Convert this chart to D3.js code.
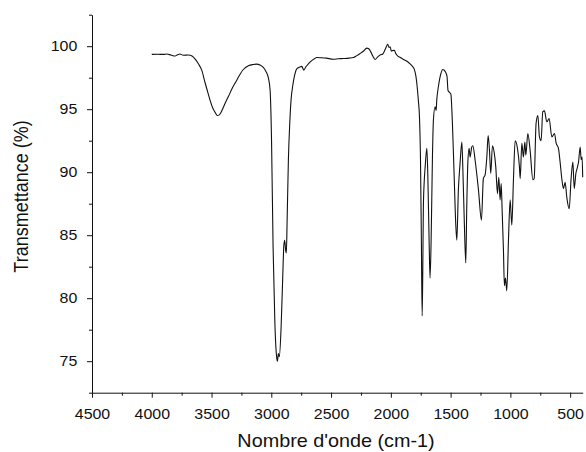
<!DOCTYPE html>
<html>
<head>
<meta charset="utf-8">
<script src="https://cdn.jsdelivr.net/npm/d3@7"></script>
<style>
    body { margin: 0; background: #fff; }
    svg { display: block; font-family: "Liberation Sans", Arial, sans-serif; }
</style>
</head>
<body>
<div id="chart"></div>
<script>
// IR spectrum (cm-1, %)
const wavenumbers = [
    4000, 3950, 3900, 3875, 3840, 3805, 3785, 3764, 3736, 3694, 3660, 3635, 3610, 3582, 3554, 3530,
    3512, 3490, 3470, 3451, 3435, 3415, 3390, 3359, 3325, 3289, 3260, 3234, 3192, 3150, 3122, 3094,
    3065, 3045, 3025, 3010, 2998, 2985, 2970, 2955, 2949, 2941, 2933, 2918, 2905, 2895, 2888, 2880,
    2874, 2868, 2857, 2845, 2835, 2820, 2807, 2787, 2760, 2745, 2728, 2712, 2690, 2662, 2640, 2620,
    2580, 2540, 2481, 2440, 2397, 2350, 2313, 2285, 2257, 2230, 2201, 2185, 2168, 2150, 2132, 2110,
    2090, 2067, 2045, 2026, 2015, 2006, 1995, 1987, 1970, 1960, 1950, 1920, 1895, 1865, 1839, 1815,
    1805, 1790, 1780, 1769, 1761, 1752, 1745, 1738, 1733, 1728, 1720, 1713, 1699, 1691, 1680, 1672,
    1663, 1652, 1644, 1630, 1621, 1616, 1602, 1582, 1565, 1546, 1530, 1522, 1515, 1498, 1485, 1471,
    1457, 1448, 1435, 1421, 1406, 1398, 1385, 1373, 1365, 1356, 1345, 1337, 1323, 1314, 1295, 1267,
    1242, 1226, 1211, 1197, 1186, 1175, 1164, 1150, 1136, 1122, 1108, 1097, 1086, 1077, 1069, 1058,
    1050, 1041, 1030, 1016, 1002, 988, 974, 960, 941, 924, 918, 904, 891, 879, 871, 854,
    835, 812, 801, 785, 770, 757, 743, 729, 715, 695, 676, 653, 631, 617, 598, 584,
    570, 556, 542, 528, 508, 492, 477, 466, 452, 439, 430, 416, 408, 400, 395
];
const transmittance = [
    99.35, 99.36, 99.35, 99.38, 99.30, 99.22, 99.32, 99.38, 99.28, 99.30, 99.20, 98.95, 98.60, 98.10, 97.10, 96.30,
    95.70, 95.10, 94.75, 94.50, 94.55, 94.85, 95.40, 96.00, 96.70, 97.30, 97.80, 98.15, 98.45, 98.55, 98.58, 98.50,
    98.30, 98.00, 97.50, 96.50, 92.50, 84.00, 78.00, 75.30, 75.00, 75.60, 75.35, 77.70, 81.50, 84.20, 84.60, 83.80,
    83.60, 86.00, 91.00, 94.00, 95.70, 96.90, 97.60, 98.20, 98.35, 98.40, 98.10, 98.35, 98.60, 98.85, 99.00, 99.10,
    99.08, 99.05, 98.97, 99.00, 99.02, 99.05, 99.10, 99.25, 99.42, 99.60, 99.85, 99.80, 99.55, 99.20, 98.95, 99.15,
    99.30, 99.38, 99.80, 100.15, 99.90, 99.95, 99.60, 99.65, 99.68, 99.45, 99.30, 99.10, 98.95, 98.80, 98.60, 98.35,
    98.20, 97.60, 96.80, 95.60, 94.50, 91.00, 85.00, 78.60, 82.00, 87.20, 89.40, 90.40, 91.90, 89.90, 84.60, 81.60,
    84.60, 91.20, 94.10, 95.20, 94.90, 95.70, 96.80, 97.80, 98.15, 98.00, 97.60, 96.50, 96.40, 96.20, 93.90, 89.90,
    85.90, 84.60, 88.60, 90.70, 92.40, 90.40, 85.90, 82.80, 87.20, 90.70, 91.90, 91.20, 92.00, 92.10, 90.95, 88.60,
    86.20, 89.50, 89.80, 91.20, 92.90, 91.75, 89.90, 92.10, 91.60, 90.40, 88.30, 89.60, 87.80, 89.10, 87.00, 83.80,
    81.00, 81.60, 80.60, 84.60, 87.80, 85.80, 89.50, 92.50, 91.90, 90.40, 89.50, 92.30, 91.20, 92.40, 91.35, 93.07,
    91.75, 89.40, 89.50, 93.87, 94.50, 92.80, 92.50, 94.80, 94.87, 94.00, 94.26, 92.80, 93.07, 92.30, 91.90, 90.80,
    89.50, 88.70, 89.20, 88.00, 87.10, 89.50, 90.80, 88.70, 89.90, 90.40, 90.80, 92.00, 91.00, 91.20, 89.60
];
const xMajorTicks = [4500, 4000, 3500, 3000, 2500, 2000, 1500, 1000, 500];
const xMinorTicks = [4250, 3750, 3250, 2750, 2250, 1750, 1250, 750];
const yMajorTicks = [75, 80, 85, 90, 95, 100];
const yMinorTicks = [72.5, 77.5, 82.5, 87.5, 92.5, 97.5, 102.5];
const xTitle = "Nombre d'onde (cm-1)";
const yTitle = "Transmettance (%)";

const width = 586;
const height = 452;
const margin = {top: 14.7, right: 3.3, bottom: 59.3, left: 92};
const stretch = 1.1; // text in the picture is a bit wider than tall

const svg = d3.select("#chart")
    .append("svg")
    .attr("width", width)
    .attr("height", height);

const x = d3.scaleLinear()
    .domain([4500, 395])
    .range([margin.left, width - margin.right]);

const y = d3.scaleLinear()
    .domain([72.5, 102.5])
    .range([height - margin.bottom, margin.top]);

const points = wavenumbers.map((w, i) => [w, transmittance[i]]);

const line = d3.line()
    .x(d => x(d[0]))
    .y(d => y(d[1]))
    .curve(d3.curveMonotoneX);

svg.append("path")
    .datum(points)
    .attr("fill", "none")
    .attr("stroke", "#111")
    .attr("stroke-width", 1.1)
    .attr("stroke-linejoin", "round")
    .attr("d", line);

// minor ticks first, then the major axis with labels on top
svg.append("g")
    .attr("transform", `translate(0,${height - margin.bottom})`)
    .call(d3.axisBottom(x).tickValues(xMinorTicks).tickSize(3).tickFormat(""))
    .call(g => g.select(".domain").remove());

svg.append("g")
    .attr("transform", `translate(${margin.left},0)`)
    .call(d3.axisLeft(y).tickValues(yMinorTicks).tickSize(3).tickFormat(""))
    .call(g => g.select(".domain").remove());

function xAxis(g) {
    g.attr("transform", `translate(0,${height - margin.bottom})`)
        .call(d3.axisBottom(x).tickValues(xMajorTicks).tickFormat(d3.format("d"))
            .tickSize(5).tickSizeOuter(0).tickPadding(11))
        .attr("font-family", null)
        .attr("font-size", "14.5px");
    g.selectAll("text")
        .attr("fill", "#111")
        .attr("transform", `scale(${stretch},1)`);
}

function yAxis(g) {
    g.attr("transform", `translate(${margin.left},0)`)
        .call(d3.axisLeft(y).tickValues(yMajorTicks).tickFormat(d3.format("d"))
            .tickSize(5).tickSizeOuter(0))
        .attr("font-family", null)
        .attr("font-size", "14.5px");
    g.selectAll("text")
        .attr("fill", "#111")
        .attr("x", -14.7 / stretch)
        .attr("transform", `scale(${stretch},1)`);
}

svg.append("g").call(xAxis);
svg.append("g").call(yAxis);

svg.selectAll(".domain, .tick line")
    .attr("stroke", "#111")
    .attr("stroke-width", 1);

svg.append("text")
    .attr("text-anchor", "middle")
    .attr("font-size", "18px")
    .attr("fill", "#111")
    .attr("transform", `translate(336,447) scale(${stretch},1)`)
    .text(xTitle);

svg.append("text")
    .attr("text-anchor", "middle")
    .attr("font-size", "18px")
    .attr("fill", "#111")
    .attr("transform", `translate(28,196.5) scale(${stretch},1) rotate(-90)`)
    .text(yTitle);
</script>
</body>
</html>
